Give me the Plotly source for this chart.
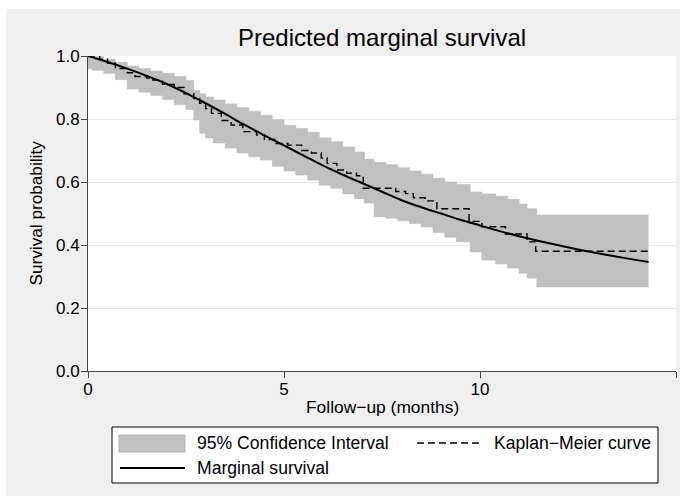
import plotly.graph_objects as go

# ---------------- data ----------------
ci_time = [0, 0.1, 0.4, 0.7, 1.0, 1.3, 1.6, 1.9, 2.2, 2.5, 2.7, 2.85, 3.0, 3.2, 3.5,
           3.8, 4.1, 4.4, 4.7, 5.0, 5.3, 5.6, 5.9, 6.2, 6.5, 6.8, 7.05, 7.3, 7.6,
           7.9, 8.2, 8.5, 8.8, 9.1, 9.4, 9.75, 10.05, 10.4, 10.7, 11.0, 11.2, 11.45, 14.3]
ci_upper = [1.0, 0.998, 0.99, 0.98, 0.968, 0.96, 0.952, 0.945, 0.935, 0.922, 0.89, 0.88,
            0.87, 0.86, 0.848, 0.836, 0.825, 0.812, 0.798, 0.78, 0.77, 0.758, 0.74, 0.728,
            0.711, 0.695, 0.672, 0.662, 0.655, 0.645, 0.635, 0.625, 0.612, 0.6, 0.592,
            0.568, 0.562, 0.555, 0.545, 0.53, 0.515, 0.495, 0.495]
ci_lower = [0.96, 0.955, 0.945, 0.925, 0.895, 0.885, 0.875, 0.862, 0.845, 0.83, 0.797,
            0.755, 0.74, 0.724, 0.708, 0.692, 0.68, 0.67, 0.65, 0.635, 0.622, 0.606, 0.59,
            0.58, 0.562, 0.547, 0.533, 0.49, 0.485, 0.477, 0.468, 0.457, 0.44, 0.425, 0.41,
            0.378, 0.352, 0.34, 0.327, 0.31, 0.295, 0.267, 0.267]

km_time = [0, 0.3, 0.5, 0.7, 1.0, 1.2, 1.5, 1.65, 1.9, 2.2, 2.45, 2.7, 2.85, 3.0, 3.15,
           3.4, 3.65, 3.95, 4.3, 4.5, 4.8, 5.1, 5.45, 5.7, 5.95, 6.1, 6.35, 6.6, 6.85,
           7.02, 7.85, 8.1, 8.3, 8.6, 8.9, 9.72, 10.05, 10.65, 11.2, 11.42, 14.3]
km_surv = [1.0, 0.99, 0.977, 0.96, 0.947, 0.935, 0.93, 0.924, 0.91, 0.9, 0.88, 0.865,
           0.85, 0.833, 0.818, 0.795, 0.781, 0.76, 0.749, 0.735, 0.722, 0.717, 0.7, 0.692,
           0.676, 0.659, 0.638, 0.628, 0.62, 0.58, 0.57, 0.563, 0.55, 0.54, 0.515, 0.475,
           0.458, 0.435, 0.41, 0.38, 0.38]

marg_time = [0, 0.5, 1, 1.5, 2, 2.5, 3, 3.5, 4, 4.5, 5, 5.5, 6, 6.5, 7, 7.5, 8, 8.5, 9,
             9.5, 10, 10.5, 11, 11.5, 12, 12.5, 13, 13.5, 14, 14.3]
marg_surv = [1.0, 0.981, 0.96, 0.937, 0.912, 0.882, 0.85, 0.816, 0.781, 0.748, 0.716,
             0.684, 0.652, 0.623, 0.596, 0.569, 0.542, 0.52, 0.5, 0.48, 0.462, 0.444,
             0.428, 0.413, 0.399, 0.386, 0.374, 0.363, 0.352, 0.346]

x_ticks = [0, 5, 10, 15]
y_ticks = [0.0, 0.2, 0.4, 0.6, 0.8, 1.0]
y_ticklabels = ["0.0", "0.2", "0.4", "0.6", "0.8", "1.0"]

title_text = "Predicted marginal survival"
x_title = "Follow\u2212up (months)"
y_title = "Survival probability"
legend_labels = ["95% Confidence Interval", "Kaplan\u2212Meier curve", "Marginal survival"]

# ---------------- layout geometry (pixels) ----------------
W, H = 684, 501
L, R, T, B = 88, 8, 56, 130
PW, PH = W - L - R, H - T - B
FONT = "Liberation Sans, Arial, sans-serif"
BAND = "#c0c0c0"


def px(xp):
    return (xp - L) / PW


def py(yp):
    return (H - B - yp) / PH


fig = go.Figure()
fig.add_trace(go.Scatter(x=ci_time, y=ci_upper, mode="lines",
                         line=dict(shape="hv", width=0.6, color="#bcbcbc"),
                         showlegend=False, hoverinfo="skip"))
fig.add_trace(go.Scatter(x=ci_time, y=ci_lower, mode="lines",
                         line=dict(shape="hv", width=0.6, color="#bcbcbc"),
                         fill="tonexty", fillcolor=BAND, name=legend_labels[0]))
fig.add_trace(go.Scatter(x=km_time, y=km_surv, mode="lines",
                         line=dict(shape="hv", width=1.4, color="black", dash="7px,4px"),
                         name=legend_labels[1]))
fig.add_trace(go.Scatter(x=marg_time, y=marg_surv, mode="lines",
                         line=dict(shape="spline", width=2, color="black"),
                         name=legend_labels[2]))

shapes = [
    # gray graph region and white plot region
    dict(type="rect", xref="paper", yref="paper", x0=px(6), x1=px(680), y0=py(496), y1=py(9),
         fillcolor="#efefef", line=dict(width=0), layer="below"),
    dict(type="rect", xref="paper", yref="paper", x0=0, x1=1, y0=0, y1=1,
         fillcolor="white", line=dict(width=0), layer="below"),
    # legend box
    dict(type="rect", xref="paper", yref="paper", x0=px(112), x1=px(658), y0=py(483), y1=py(427),
         fillcolor="white", line=dict(width=1, color="black")),
    dict(type="rect", xref="paper", yref="paper", x0=px(119), x1=px(185), y0=py(452), y1=py(435),
         fillcolor=BAND, line=dict(width=1, color="#b5b5b5")),
    dict(type="line", xref="paper", yref="paper", x0=px(417), x1=px(481), y0=py(443), y1=py(443),
         line=dict(width=1.4, color="black", dash="7px,4px")),
    dict(type="line", xref="paper", yref="paper", x0=px(120), x1=px(185), y0=py(468), y1=py(468),
         line=dict(width=2, color="black")),
]

annotations = [
    dict(text=title_text, xref="paper", yref="paper", x=0.5, y=py(38), showarrow=False,
         xanchor="center", yanchor="middle", font=dict(size=24, color="black", family=FONT)),
    dict(text=x_title, xref="paper", yref="paper", x=px(382), y=py(407), showarrow=False,
         xanchor="center", yanchor="middle", font=dict(size=17.4, color="black", family=FONT)),
    dict(text=y_title, xref="paper", yref="paper", x=px(35), y=0.5, showarrow=False,
         textangle=-90, xanchor="center", yanchor="middle",
         font=dict(size=17.2, color="black", family=FONT)),
    dict(text=legend_labels[0], xref="paper", yref="paper", x=px(195), y=py(443), showarrow=False,
         xanchor="left", yanchor="middle", font=dict(size=17.6, color="black", family=FONT)),
    dict(text=legend_labels[1], xref="paper", yref="paper", x=px(492), y=py(443), showarrow=False,
         xanchor="left", yanchor="middle", font=dict(size=17.6, color="black", family=FONT)),
    dict(text=legend_labels[2], xref="paper", yref="paper", x=px(195), y=py(468), showarrow=False,
         xanchor="left", yanchor="middle", font=dict(size=17.6, color="black", family=FONT)),
]

fig.update_layout(
    width=W, height=H, margin=dict(l=L, r=R, t=T, b=B),
    paper_bgcolor="white", plot_bgcolor="white",
    showlegend=False, shapes=shapes, annotations=annotations,
    font=dict(family=FONT, size=17, color="black"),
)
fig.update_xaxes(range=[0, 15], tickvals=x_ticks, ticks="outside", ticklen=6,
                 tickcolor="#444", showline=True, linecolor="#444", linewidth=1,
                 showgrid=False, zeroline=False, tickfont=dict(size=17),
                 ticklabelstandoff=-3)
fig.update_yaxes(range=[0, 1], tickvals=y_ticks, ticktext=y_ticklabels, ticks="outside",
                 ticklen=6, tickcolor="#444", showline=True, linecolor="#444", linewidth=1,
                 showgrid=True, gridcolor="#e8e8e8", gridwidth=1, zeroline=False,
                 tickfont=dict(size=17), ticklabelstandoff=-2)

fig.write_html("out.html")
